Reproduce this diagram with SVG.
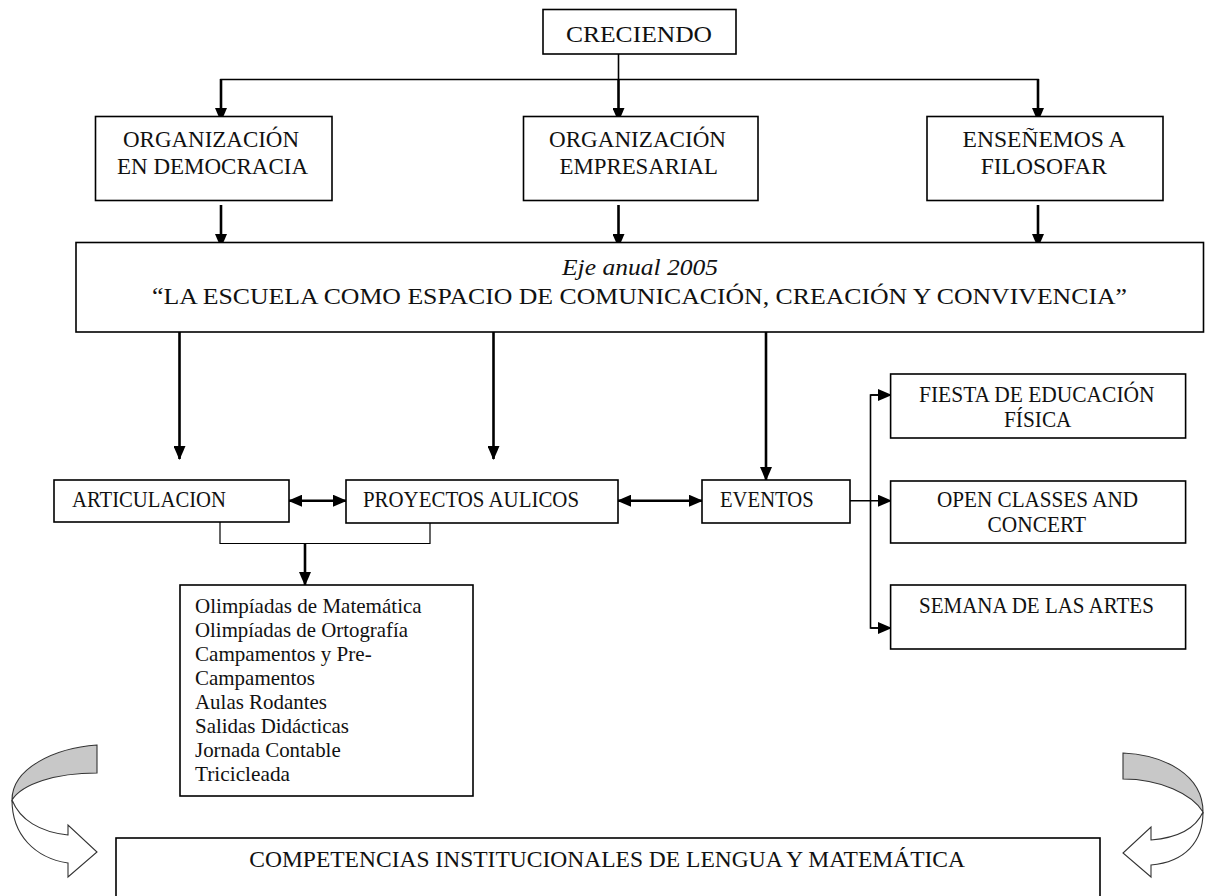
<svg xmlns="http://www.w3.org/2000/svg" width="1206" height="896" viewBox="0 0 1206 896">
<style>
.box{fill:#fff;stroke:#000;stroke-width:1.6}
.t{font-family:"Liberation Serif","Times New Roman",serif;font-size:24px;fill:#111}
.ts{font-family:"Liberation Serif","Times New Roman",serif;font-size:22px;fill:#111}
.thick{stroke:#000;stroke-width:2.6;fill:none}
.med{stroke:#000;stroke-width:1.6;fill:none}
.thin{stroke:#000;stroke-width:1.2;fill:none}
.curv{stroke:#333;stroke-width:1.1}
</style>
<defs>
<marker id="arr" markerUnits="userSpaceOnUse" markerWidth="14" markerHeight="12" refX="13" refY="6" orient="auto-start-reverse">
<path d="M0,0 L14,6 L0,12 Z" fill="#000"/>
</marker>
</defs>
<rect width="1206" height="896" fill="#fff"/>

<g id="connectors">
<line class="med" x1="618.5" y1="54" x2="618.5" y2="80"/>
<line class="thick" x1="618.5" y1="79" x2="618.5" y2="121" marker-end="url(#arr)"/>
<polyline class="med" points="221,121 221,79.5 1038,79.5 1038,121"/>
<line class="thick" x1="221" y1="79" x2="221" y2="121" marker-end="url(#arr)"/>
<line class="thick" x1="1038" y1="79" x2="1038" y2="121" marker-end="url(#arr)"/>
<line class="thick" x1="221" y1="205" x2="221" y2="247" marker-end="url(#arr)"/>
<line class="thick" x1="618.5" y1="205" x2="618.5" y2="247" marker-end="url(#arr)"/>
<line class="thick" x1="1038" y1="205" x2="1038" y2="247" marker-end="url(#arr)"/>
<line class="thick" x1="179.5" y1="332" x2="179.5" y2="459" marker-end="url(#arr)"/>
<line class="thick" x1="493.5" y1="332" x2="493.5" y2="459" marker-end="url(#arr)"/>
<line class="thick" x1="766" y1="332" x2="766" y2="480" marker-end="url(#arr)"/>
<line class="thick" x1="289" y1="500.7" x2="346" y2="500.7" marker-start="url(#arr)" marker-end="url(#arr)"/>
<line class="thick" x1="618" y1="500.7" x2="702" y2="500.7" marker-start="url(#arr)" marker-end="url(#arr)"/>
<polyline class="thin" points="220,522 220,543.5 430,543.5 430,523"/>
<line class="thick" x1="305" y1="543" x2="305" y2="585" marker-end="url(#arr)"/>
<line class="med" x1="847" y1="500.7" x2="891" y2="500.7" marker-end="url(#arr)"/>
<polyline class="med" points="891,395 870.5,395 870.5,628 891,628"/>
<line class="med" x1="870.5" y1="395" x2="891" y2="395" marker-end="url(#arr)"/>
<line class="med" x1="870.5" y1="628" x2="891" y2="628" marker-end="url(#arr)"/>
</g>

<g id="n-creciendo">
<rect class="box" x="543" y="9.5" width="193" height="44.5"/>
<text class="t" x="566" y="41.7" textLength="146" lengthAdjust="spacingAndGlyphs">CRECIENDO</text>
</g>
<g id="n-democracia">
<rect class="box" x="95.5" y="116.5" width="236.5" height="84"/>
<text class="t" x="123" y="146.7" textLength="176" lengthAdjust="spacingAndGlyphs">ORGANIZACIÓN</text>
<text class="t" x="117" y="174" textLength="191" lengthAdjust="spacingAndGlyphs">EN DEMOCRACIA</text>
</g>
<g id="n-empresarial">
<rect class="box" x="523.5" y="116.5" width="234.5" height="84"/>
<text class="t" x="549" y="146.7" textLength="177" lengthAdjust="spacingAndGlyphs">ORGANIZACIÓN</text>
<text class="t" x="559.5" y="174" textLength="158.5" lengthAdjust="spacingAndGlyphs">EMPRESARIAL</text>
</g>
<g id="n-filosofar">
<rect class="box" x="927" y="116.5" width="236" height="84"/>
<text class="t" x="962.5" y="146.7" textLength="163" lengthAdjust="spacingAndGlyphs">ENSEÑEMOS A</text>
<text class="t" x="980.7" y="174" textLength="126.3" lengthAdjust="spacingAndGlyphs">FILOSOFAR</text>
</g>
<g id="n-eje">
<rect class="box" x="76" y="242.5" width="1127.5" height="89.5"/>
<text class="t" x="562" y="275" font-style="italic" textLength="156" lengthAdjust="spacingAndGlyphs">Eje anual 2005</text>
<text class="t" x="152" y="304" textLength="975" lengthAdjust="spacingAndGlyphs">“LA ESCUELA COMO ESPACIO DE COMUNICACIÓN, CREACIÓN Y CONVIVENCIA”</text>
</g>
<g id="n-articulacion">
<rect class="box" x="54" y="480" width="235" height="42"/>
<text class="t" x="72" y="507" textLength="154" lengthAdjust="spacingAndGlyphs">ARTICULACION</text>
</g>
<g id="n-proyectos">
<rect class="box" x="346" y="480" width="272" height="43"/>
<text class="t" x="363" y="507" textLength="216" lengthAdjust="spacingAndGlyphs">PROYECTOS AULICOS</text>
</g>
<g id="n-eventos">
<rect class="box" x="702" y="480" width="148" height="43"/>
<text class="t" x="720" y="506.7" textLength="93.7" lengthAdjust="spacingAndGlyphs">EVENTOS</text>
</g>
<g id="n-fiesta">
<rect class="box" x="890.6" y="374" width="295" height="64"/>
<text class="t" x="919" y="402.3" textLength="235.6" lengthAdjust="spacingAndGlyphs">FIESTA DE  EDUCACIÓN</text>
<text class="t" x="1004" y="426.7" textLength="67.5" lengthAdjust="spacingAndGlyphs">FÍSICA</text>
</g>
<g id="n-open">
<rect class="box" x="890.6" y="481" width="295" height="62"/>
<text class="t" x="937" y="506.7" textLength="201" lengthAdjust="spacingAndGlyphs">OPEN CLASSES AND</text>
<text class="t" x="987.6" y="531.7" textLength="98.4" lengthAdjust="spacingAndGlyphs">CONCERT</text>
</g>
<g id="n-semana">
<rect class="box" x="890.6" y="585" width="295" height="64"/>
<text class="t" x="919" y="613.3" textLength="234.8" lengthAdjust="spacingAndGlyphs">SEMANA DE LAS ARTES</text>
</g>
<g id="n-lista">
<rect class="box" x="180" y="585" width="293" height="211"/>
<text class="ts" x="195" y="612.7" textLength="226.7" lengthAdjust="spacingAndGlyphs">Olimpíadas de Matemática</text>
<text class="ts" x="195" y="636.8" textLength="213" lengthAdjust="spacingAndGlyphs">Olimpíadas de Ortografía</text>
<text class="ts" x="195" y="660.9" textLength="176.7" lengthAdjust="spacingAndGlyphs">Campamentos y Pre-</text>
<text class="ts" x="195" y="685" textLength="120" lengthAdjust="spacingAndGlyphs">Campamentos</text>
<text class="ts" x="195" y="709.1" textLength="132" lengthAdjust="spacingAndGlyphs">Aulas Rodantes</text>
<text class="ts" x="195" y="733.2" textLength="154" lengthAdjust="spacingAndGlyphs">Salidas Didácticas</text>
<text class="ts" x="195" y="757.3" textLength="145.7" lengthAdjust="spacingAndGlyphs">Jornada Contable</text>
<text class="ts" x="195" y="781.4" textLength="95" lengthAdjust="spacingAndGlyphs">Tricicleada</text>
</g>
<g id="n-competencias">
<rect class="box" x="116" y="838" width="984" height="70"/>
<text class="t" x="249.3" y="867.3" textLength="715.7" lengthAdjust="spacingAndGlyphs">COMPETENCIAS INSTITUCIONALES DE LENGUA Y MATEMÁTICA</text>
</g>
<g id="curved-left">
<path class="curv" fill="#c8c8c8" d="M97,745 C55,748 12,768 12,800 C22,784 55,773 97,773 Z"/>
<path class="curv" fill="#fff" d="M12,800 C12,835 35,858 68,863 L68,877 L97,852 L68,825 L68,835 C40,832 20,820 12,800 Z"/>
</g>
<g id="curved-right">
<path class="curv" fill="#c8c8c8" d="M1123,753 C1165,755 1203,775 1203,812 C1192,794 1160,779 1123,779 Z"/>
<path class="curv" fill="#fff" d="M1203,812 C1203,842 1185,862 1151,865 L1151,877 L1123,853 L1151,827 L1151,840 C1175,838 1195,830 1203,812 Z"/>
</g>
</svg>
